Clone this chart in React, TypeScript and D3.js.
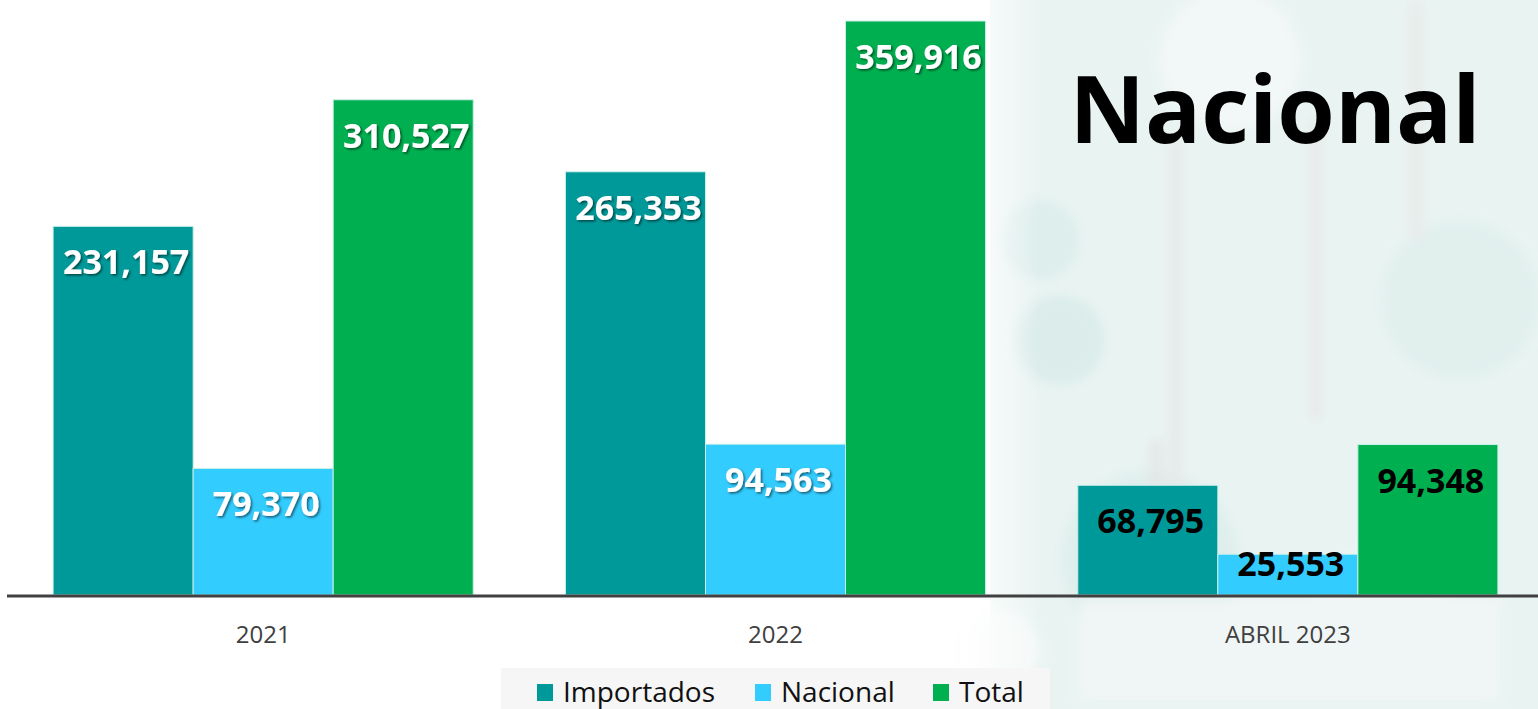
import React from "react";
import * as d3 from "d3";

const categories = ["2021", "2022", "ABRIL 2023"];
const seriesNames = ["Importados", "Nacional", "Total"];
const importados = [231157, 265353, 68795];
const nacional = [79370, 94563, 25553];
const total = [310527, 359916, 94348];
const seriesColors = ["#009999", "#33ccff", "#00b050"];
const labelColors = ["#ffffff", "#ffffff", "#000000"];
const title = "Nacional";

const W = 1538;
const H = 709;
const baseY = 595;

export default function App() {
  const values = [importados, nacional, total];
  const x0 = d3.scaleBand<string>().domain(categories).range([7, 1544]).paddingInner(0.18).paddingOuter(0.09);
  const x1 = d3.scaleBand<string>().domain(seriesNames).range([0, x0.bandwidth()]).padding(0);
  const y = d3.scaleLinear().domain([0, 359916]).range([baseY, 21]);
  const fmt = d3.format(",");

  const legendX = [537, 755, 933];

  return (
    <svg width={W} height={H} style={{ position: "absolute", left: 0, top: 0, display: "block" }}>
      <defs>
        <filter id="blur" x="-20%" y="-20%" width="140%" height="140%">
          <feGaussianBlur stdDeviation="6" />
        </filter>
        <linearGradient id="fade" x1="0" x2="1" y1="0" y2="0">
          <stop offset="0" stopColor="#ffffff" stopOpacity="1" />
          <stop offset="1" stopColor="#ffffff" stopOpacity="0" />
        </linearGradient>
        <filter id="shadow" x="-10%" y="-30%" width="130%" height="160%">
          <feDropShadow dx="1.5" dy="1.5" stdDeviation="1" floodColor="#000" floodOpacity="0.55" />
        </filter>
      </defs>
      <rect x={0} y={0} width={W} height={H} fill="#ffffff" />
      {/* decorative background */}
      <g>
        <rect x={990} y={0} width={548} height={H} fill="#e9f4f2" />
        <g filter="url(#blur)" opacity={0.85}>
          <circle cx={1040} cy={240} r={40} fill="#dcedeb" />
          <circle cx={1060} cy={340} r={45} fill="#d9ebe9" />
          <circle cx={1150} cy={560} r={90} fill="#deeeec" />
          <circle cx={1230} cy={60} r={70} fill="#f4f8f8" />
          <circle cx={1460} cy={300} r={80} fill="#e0efed" />
          <circle cx={1380} cy={620} r={70} fill="#f4f7f7" />
          <rect x={1170} y={140} width={12} height={360} fill="#e6e6e6" />
          <rect x={1310} y={120} width={12} height={300} fill="#e7e7e7" />
          <rect x={1410} y={0} width={12} height={240} fill="#e8e8e8" />
          <rect x={1150} y={440} width={12} height={90} fill="#e3e3e3" />
          <rect x={1080} y={600} width={420} height={100} fill="#f2f6f6" />
          <circle cx={1000} cy={650} r={40} fill="#f7f9f9" />
        </g>
        <rect x={960} y={0} width={80} height={H} fill="url(#fade)" />
      </g>

      {/* bars */}
      {categories.map((c, ci) => (
        <g key={c} transform={`translate(${x0(c)},0)`}>
          {seriesNames.map((s, si) => {
            const v = values[si][ci];
            const top = y(v);
            return (
              <rect key={s} x={x1(s)!} y={top} width={x1.bandwidth()} height={baseY - top}
                fill={seriesColors[si]} stroke="#c8efe8" strokeWidth={1} />
            );
          })}
        </g>
      ))}

      {/* labels */}
      {categories.map((c, ci) => (
        <g key={"l" + c} transform={`translate(${x0(c)},0)`}>
          {seriesNames.map((s, si) => {
            const v = values[si][ci];
            const top = y(v);
            const by = Math.min(top + 48, baseY - 19);
            const white = labelColors[ci] === "#ffffff";
            return (
              <text key={s} x={x1(s)! + x1.bandwidth() / 2 + 3} y={by} textAnchor="middle"
                fontFamily="'Open Sans', sans-serif" fontWeight={700} fontSize={34}
                fill={labelColors[ci]} filter={white ? "url(#shadow)" : undefined}>
                {fmt(v)}
              </text>
            );
          })}
        </g>
      ))}

      {/* axis */}
      <line x1={7} x2={W} y1={baseY + 1} y2={baseY + 1} stroke="#404040" strokeWidth={3} />
      {categories.map((c) => (
        <text key={"c" + c} x={x0(c)! + x0.bandwidth() / 2} y={643} textAnchor="middle"
          fontFamily="'Open Sans', sans-serif" fontSize={24} fill="#404040">
          {c}
        </text>
      ))}

      {/* legend */}
      <rect x={501} y={668} width={549} height={41} fill="#f6f6f6" />
      {seriesNames.map((s, i) => (
        <g key={"lg" + s}>
          <rect x={legendX[i]} y={684} width={16} height={17} fill={seriesColors[i]} />
          <text x={legendX[i] + 26} y={702} fontFamily="'Open Sans', sans-serif" fontSize={28} fill="#111111">
            {s}
          </text>
        </g>
      ))}

      {/* title */}
      <text x={1275} y={143} textAnchor="middle" fontFamily="'Open Sans', sans-serif" fontWeight={700}
        fontSize={93} fill="#000000">
        {title}
      </text>
    </svg>
  );
}
